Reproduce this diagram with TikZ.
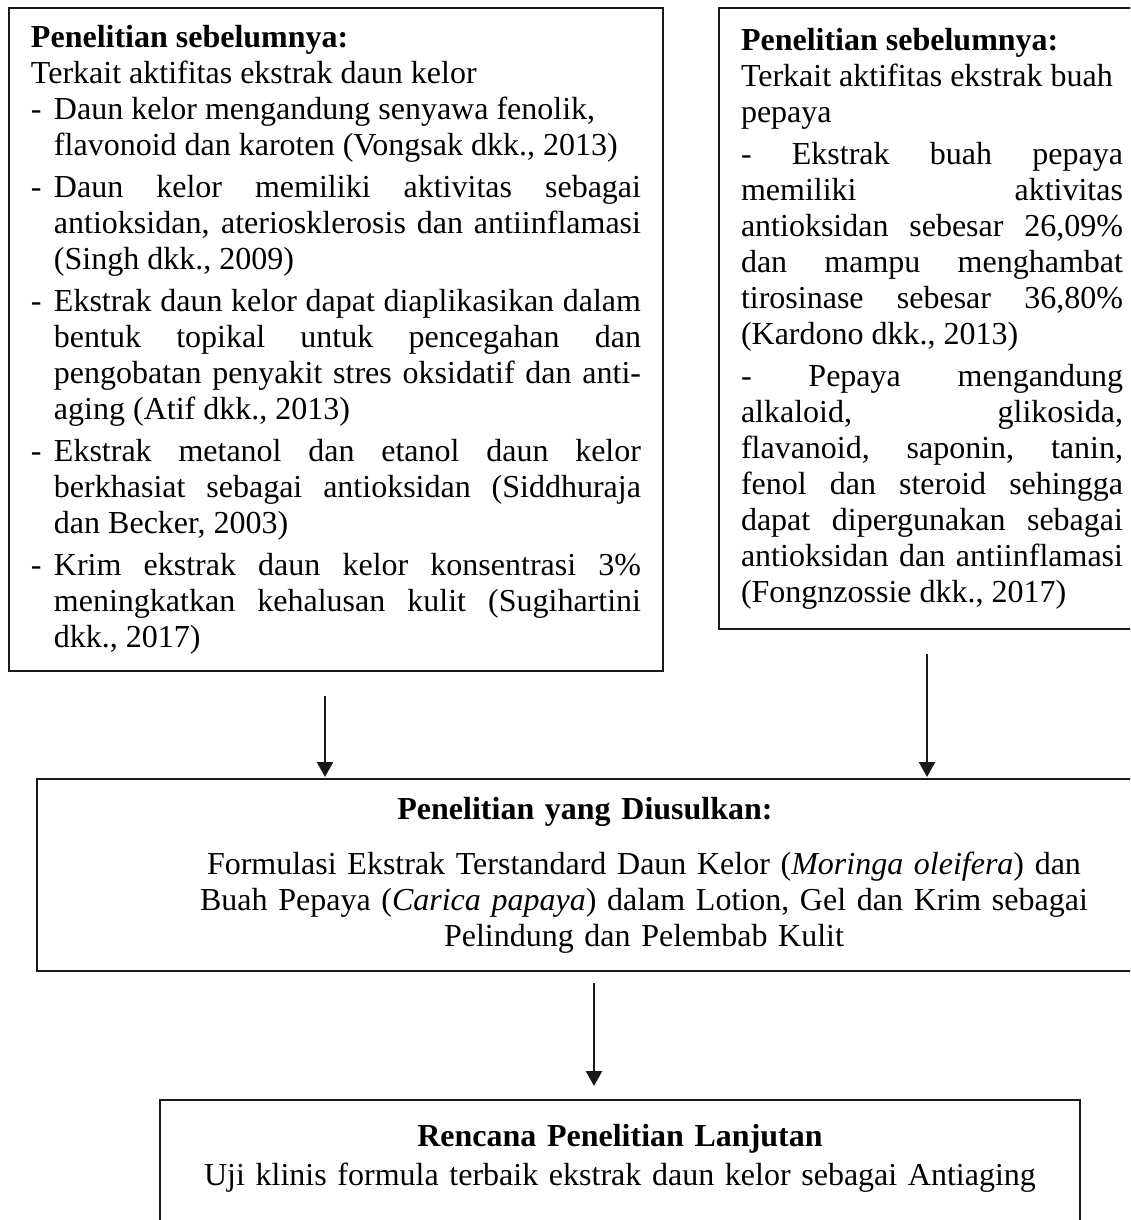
\documentclass[tikz,border=0pt]{standalone}
\usepackage{fontspec}
\setmainfont{Liberation Serif}
\usetikzlibrary{arrows.meta,positioning}
\definecolor{garis}{RGB}{25,25,25}
\newcommand{\strip}{\makebox[11.5pt][l]{-}}
\newcommand{\butir}{\par\hangindent=11.5pt\strip}
\newcommand{\geser}{\hspace*{59pt}}
\tolerance=10000 \hbadness=10000 \hyphenpenalty=10000

\begin{document}
\begin{tikzpicture}[x=0.5pt,y=-0.5pt,
        kotak/.style={draw=garis,line width=1pt,anchor=north west,inner xsep=11pt,inner ysep=9.5pt,
                      font=\fontsize{16}{18}\selectfont,
                      execute at begin node={\setlength{\parskip}{3pt}}},
        panah/.style={-{Triangle[length=7.5pt,width=8pt]},line width=1.2pt,garis}]
  \useasboundingbox (0,0) rectangle (1130,1220);
  \clip (0,0) rectangle (1130,1220);
  \node[kotak,text width=305pt,align=justify,inner ysep=8.5pt] (kiri) at (8,7) {\hangindent=11.5pt\hangafter=3
    \textbf{Penelitian sebelumnya:}\newline
    Terkait aktifitas ekstrak daun kelor\newline
    \strip Daun kelor mengandung senyawa fenolik,\newline flavonoid dan karoten (Vongsak dkk., 2013)
    \butir Daun kelor memiliki aktivitas sebagai\linebreak antioksidan, ateriosklerosis dan antiinflamasi\linebreak (Singh dkk., 2009)
    \butir Ekstrak daun kelor dapat diaplikasikan dalam\linebreak bentuk topikal untuk pencegahan dan\linebreak
      pengobatan penyakit stres oksidatif dan anti-\linebreak aging (Atif dkk., 2013)
    \butir Ekstrak metanol dan etanol daun kelor\linebreak berkhasiat sebagai antioksidan (Siddhuraja\linebreak dan Becker, 2003)
    \butir Krim ekstrak daun kelor konsentrasi 3\%\linebreak meningkatkan kehalusan kulit (Sugihartini\linebreak dkk., 2017)\par};
  \node[kotak,text width=191pt,align=justify,inner ysep=10pt,right=27pt of kiri.north east,anchor=north west] (kanan) {\textbf{Penelitian sebelumnya:}\newline
    Terkait aktifitas ekstrak buah\newline pepaya\par
    - Ekstrak buah pepaya\linebreak memiliki aktivitas\linebreak antioksidan sebesar 26,09\%\linebreak
      dan mampu menghambat\linebreak tirosinase sebesar 36,80\%\linebreak (Kardono dkk., 2013)\par
    - Pepaya mengandung\linebreak alkaloid, glikosida,\linebreak flavanoid, saponin, tanin,\linebreak
      fenol dan steroid sehingga\linebreak dapat dipergunakan sebagai\linebreak antioksidan dan antiinflamasi\linebreak
      (Fongnzossie dkk., 2017)};
  \node[kotak,text width=526pt,align=center,inner ysep=9pt] (usulan) at (36,778) {\textbf{Penelitian yang Diusulkan:}\\[9.5pt]
    \geser Formulasi Ekstrak Terstandard Daun Kelor (\textit{Moringa oleifera}) dan\\
    \geser Buah Pepaya (\textit{Carica papaya}) dalam Lotion, Gel dan Krim sebagai\\
    \geser Pelindung dan Pelembab Kulit};
  \node[kotak,text width=438pt,align=center,inner ysep=12pt,text depth=30pt] (lanjutan) at (159,1099) {\textbf{Rencana Penelitian Lanjutan}\\[1.5pt]
    Uji klinis formula terbaik ekstrak daun kelor sebagai Antiaging};
  \draw[panah,shorten <=12pt,shorten >=0.5pt] ([xshift=-5.5pt]kiri.south) -- ([xshift=-5.5pt]kiri.south |- usulan.north);
  \draw[panah,shorten <=12pt,shorten >=0.5pt] ([xshift=-2.5pt]kanan.south) -- ([xshift=-2.5pt]kanan.south |- usulan.north);
  \draw[panah,shorten <=5.5pt,shorten >=6.5pt] ([xshift=4.5pt]usulan.south) -- ([xshift=4.5pt]usulan.south |- lanjutan.north);
\end{tikzpicture}
\end{document}
